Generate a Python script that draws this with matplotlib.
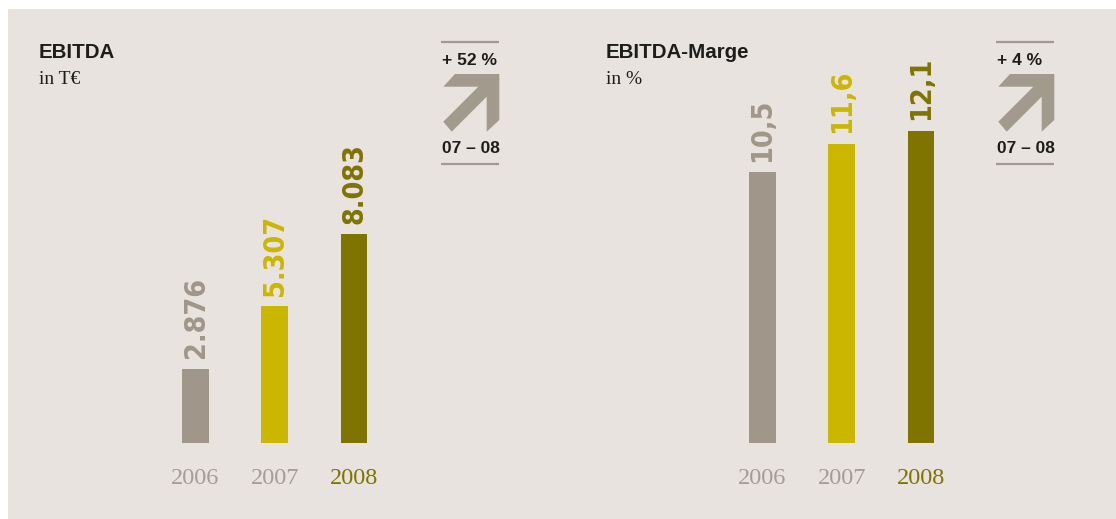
import matplotlib.pyplot as plt
from matplotlib.patches import Rectangle, Polygon

# data
years = ["2006", "2007", "2008"]
ebitda = [2.876, 5.307, 8.083]
ebitda_labels = ["2.876", "5.307", "8.083"]
marge = [10.5, 11.6, 12.1]
marge_labels = ["10,5", "11,6", "12,1"]
growth_labels = ["+ 52 %", "+ 4 %"]
period_label = "07 – 08"

bar_colors = ["#a0968a", "#cbb700", "#7f7400"]
year_colors = ["#a59d93", "#a59d93", "#7f7400"]
panel_color = "#e8e3df"
dark = "#1d1d1b"
arrow_color = "#a39a8e"

W, H = 1116, 519
PX_PER_UNIT = 25.77
BASE = 442.7          # pixel row of the bar baseline
STEP = 79.25          # pixel distance between bars

fig = plt.figure(figsize=(W / 100, H / 100), dpi=100)

# background canvas in pixel coordinates
bg = fig.add_axes([0, 0, 1, 1], zorder=0)
bg.set_xlim(0, W)
bg.set_ylim(H, 0)
bg.axis("off")
bg.add_patch(Rectangle((8, 9), W - 8, H - 9, color=panel_color, lw=0))


def px_axes(left, top, right, bottom):
    return fig.add_axes([left / W, 1 - bottom / H, (right - left) / W, (bottom - top) / H], zorder=1)


def draw_chart(first_center, values, labels, title, unit, box_dx, growth):
    ax = px_axes(first_center - STEP / 2, 0, first_center + 2.5 * STEP, BASE)
    ax.set_xlim(-0.5, 2.5)
    ax.set_ylim(0, BASE / PX_PER_UNIT)
    ax.patch.set_alpha(0)
    for s in ax.spines.values():
        s.set_visible(False)
    x = list(range(len(years)))
    ax.bar(x, values, width=0.34, color=bar_colors)
    for xi, v, lab, c in zip(x, values, labels, bar_colors):
        ax.annotate(lab, (xi, v), xytext=(0, 7.5), textcoords="offset points",
                    rotation=90, ha="center", va="bottom", color=c,
                    family="DejaVu Sans", fontweight="bold",
                    fontstretch="condensed", fontsize=20.5)
    ax.set_yticks([])
    ax.set_xticks(x, years)
    ax.tick_params(axis="x", length=0, pad=18)
    for t, c in zip(ax.get_xticklabels(), year_colors):
        t.set_color(c)
        t.set_family("Liberation Serif")
        t.set_fontsize(17.5)

    tx = first_center - 156.5
    bg.text(tx, 58.3, title, fontsize=14.8, fontweight="bold",
            family="Liberation Sans", color=dark, va="baseline")
    bg.text(tx, 84, unit, fontsize=14, family="Liberation Serif",
            color=dark, va="baseline")

    # growth box
    for yy in (42.3, 164):
        bg.plot([441 + box_dx, 499.3 + box_dx], [yy, yy], color=arrow_color,
                lw=1.6, solid_capstyle="butt")
    bg.text(442 + box_dx, 65, growth, fontsize=12.5, fontweight="bold",
            family="Liberation Sans", color=dark, va="baseline")
    bg.text(442 + box_dx, 153.3, period_label, fontsize=12.5, fontweight="bold",
            family="Liberation Sans", color=dark, va="baseline")
    shape = [(455, 74), (499.3, 74), (499.3, 120), (486.7, 131.7), (486.7, 96.7),
             (451.7, 131.7), (443.3, 121.7), (478.3, 86.7), (443.3, 86.7)]
    bg.add_patch(Polygon([(px + box_dx, py) for px, py in shape],
                         closed=True, color=arrow_color, lw=0))


draw_chart(195.5, ebitda, ebitda_labels, "EBITDA", "in T€", 0, growth_labels[0])
draw_chart(762.5, marge, marge_labels, "EBITDA-Marge", "in %", 555, growth_labels[1])

fig.savefig("out.png", dpi=100, facecolor="white")
